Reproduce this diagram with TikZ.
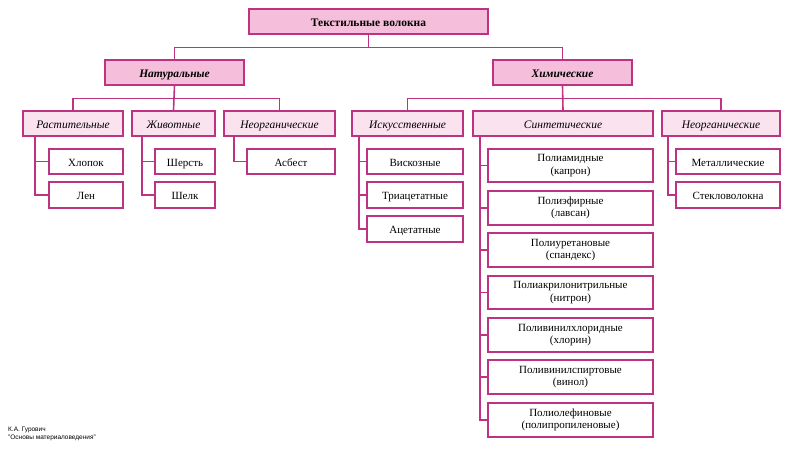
\documentclass[tikz,border=0pt]{standalone}
\usepackage{fontspec}
\setmainfont{Liberation Serif}
\setsansfont{Liberation Sans}
\definecolor{bd}{RGB}{190,50,130}
\definecolor{f1}{RGB}{245,190,218}
\definecolor{f2}{RGB}{251,226,239}
\begin{document}
\begin{tikzpicture}[x=1pt,y=-1pt,
  box/.style={draw=bd,line width=1.3pt,inner sep=0pt,font=\fontsize{11}{12.5}\selectfont,align=center},
  one/.style={box,text height=10.5pt,text depth=1pt},
  lvl/.style={one,fill=f1,font=\fontsize{11.5}{13}\selectfont\bfseries\itshape},
  hdr/.style={one,fill=f2,font=\fontsize{11.5}{13}\selectfont\itshape},
  ln/.style={draw=bd,line width=1.6pt}]
\useasboundingbox (0,0) rectangle (800,453);
\node[lvl,font=\fontsize{11.5}{13}\selectfont\bfseries,minimum width=239,minimum height=25] (top) at (368.5,21.5) {Текстильные волокна};
\node[lvl,minimum width=139,minimum height=25] (nat) at (174.5,72.5) {Натуральные};
\node[lvl,minimum width=139,minimum height=25] (chem) at (562.5,72.5) {Химические};
\node[hdr,minimum width=100,minimum height=25] (rast) at (73,123.5) {Растительные};
\node[hdr,minimum width=83,minimum height=25] (zhiv) at (173.5,123.5) {Животные};
\node[hdr,minimum width=111,minimum height=25] (neo1) at (279.5,123.5) {Неорганические};
\node[hdr,minimum width=111,minimum height=25] (isk) at (407.5,123.5) {Искусственные};
\node[hdr,minimum width=180,minimum height=25] (sin) at (563,123.5) {Синтетические};
\node[hdr,minimum width=118,minimum height=25] (neo2) at (721,123.5) {Неорганические};
\node[one,minimum width=74,minimum height=25] (hl) at (86,161.5) {Хлопок};
\node[one,minimum width=74,minimum height=26] (len) at (86,195) {Лен};
\node[one,minimum width=60,minimum height=25] (sher) at (185,161.5) {Шерсть};
\node[one,minimum width=60,minimum height=26] (shel) at (185,195) {Шелк};
\node[one,minimum width=88,minimum height=25] (asb) at (291,161.5) {Асбест};
\node[one,minimum width=96,minimum height=25] (visk) at (415,161.5) {Вискозные};
\node[one,minimum width=96,minimum height=26] (tri) at (415,195) {Триацетатные};
\node[one,minimum width=96,minimum height=26] (ace) at (415,229) {Ацетатные};
\node[one,minimum width=104,minimum height=25] (met) at (728,161.5) {Металлические};
\node[one,minimum width=104,minimum height=26] (stek) at (728,195) {Стекловолокна};
\node[box,minimum width=165,minimum height=33] (s1) at (570.5,165.5) {Полиамидные\\(капрон)};
\node[box,minimum width=165,minimum height=34] (s2) at (570.5,208) {Полиэфирные\\(лавсан)};
\node[box,minimum width=165,minimum height=34] (s3) at (570.5,250) {Полиуретановые\\(спандекс)};
\node[box,minimum width=165,minimum height=33] (s4) at (570.5,292.5) {Полиакрилонитрильные\\(нитрон)};
\node[box,minimum width=165,minimum height=34] (s5) at (570.5,335) {Поливинилхлоридные\\(хлорин)};
\node[box,minimum width=165,minimum height=34] (s6) at (570.5,377) {Поливинилспиртовые\\(винол)};
\node[box,minimum width=165,minimum height=34] (s7) at (570.5,420) {Полиолефиновые\\(полипропиленовые)};
\draw[ln] (top.south) -- ++(0,13) -| (nat.north);
\draw[ln] (top.south) ++(0,13) -| (chem.north);
\foreach \p/\a/\b/\c in {nat/rast/zhiv/neo1,chem/isk/sin/neo2}{
  \draw[ln] (\p.south) -- ++(0,13) coordinate (m) -| (\a.north);
  \draw[ln] (\p.south) -- (\b.north);
  \draw[ln] (m) -| (\c.north);
}
\foreach \h/\x/\lst in {rast/35/{hl,len},zhiv/142/{sher,shel},neo1/234/{asb},isk/359/{visk,tri,ace},sin/480/{s1,s2,s3,s4,s5,s6,s7},neo2/668/{met,stek}}{
  \foreach \c in \lst { \draw[ln] (\x,136) |- (\c.west); }
}
\node[anchor=north west,font=\fontsize{6.5}{7.5}\selectfont\sffamily,align=left,inner sep=0pt] (foot) at (8,427) {К.А. Гурович\\"Основы материаловедения"};
\end{tikzpicture}
\end{document}
